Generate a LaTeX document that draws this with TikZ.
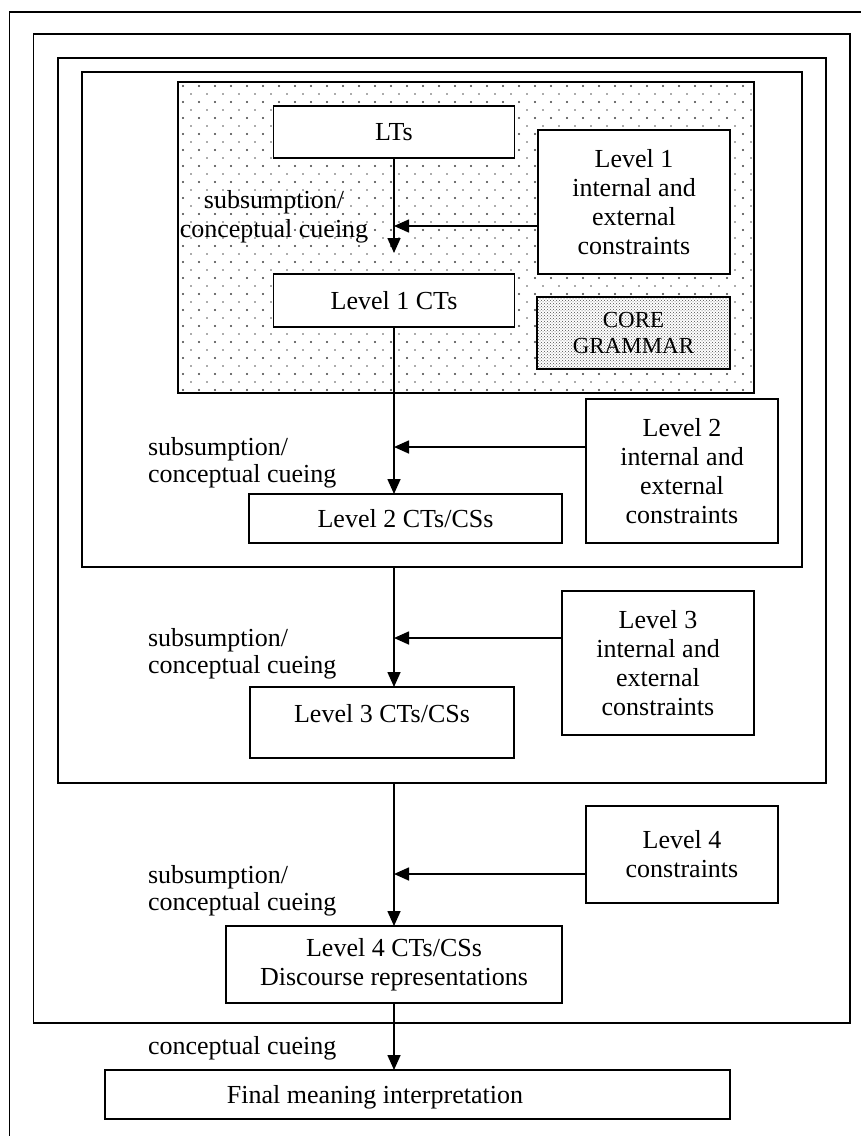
\documentclass[tikz,border=0pt]{standalone}
\usepackage{fontspec}
\setmainfont{Liberation Serif}
\usetikzlibrary{arrows.meta,patterns}
\begin{document}
\begin{tikzpicture}[x=1pt,y=-1pt,
  every node/.style={font=\fontsize{26pt}{29pt}\selectfont, inner sep=0pt, outer sep=0pt},
  frm/.style={draw, line width=1.3pt},
  bx/.style={draw, line width=1.8pt, fill=white, rectangle, align=center},
  arr/.style={line width=1.6pt, -{Triangle[length=15pt,width=13pt]}},
  lbl/.style={anchor=base west},
  lblc/.style={anchor=base}]
\useasboundingbox (0,0) rectangle (861,1136);
\fill[white] (0,0) rectangle (861,1136);
% frames
\draw[frm] (861,12) -- (9.5,12) -- (9.5,1136);
\draw[frm] (33.5,34) rectangle (850,1023);
\draw[frm] (58,58) rectangle (826,783);
\draw[frm] (82,72) rectangle (802,567);
% dotted core region
\fill[white] (178,82) rectangle (754,393);
\fill[black!75] \foreach \i in {0,...,35} {\foreach \j in {0,...,19} {(183+16*\i,86+16*\j) circle (1.05pt)}};
\fill[black!65] \foreach \i in {0,...,35} {\foreach \j in {0,...,18} {(191+16*\i,94+16*\j) circle (0.8pt)}};
\draw[line width=1.8pt] (178,82) rectangle (754,393);
% boxes
\node[bx, minimum width=241pt, minimum height=52pt] (lts) at (394,132) {LTs};
\node[bx, minimum width=241pt, minimum height=53pt] (l1ct) at (394,300.5) {Level 1 CTs};
\node[bx, minimum width=192pt, minimum height=144pt] (l1c) at (634,202) {Level 1\\internal and\\external\\constraints};
\node[draw, line width=1.8pt, rectangle, align=center, preaction={fill=white}, pattern=crosshatch dots, pattern color=black!70,
      minimum width=193pt, minimum height=72pt, font=\fontsize{23pt}{26pt}\selectfont] (core) at (633.5,333) {CORE\\GRAMMAR};
\node[bx, minimum width=313pt, minimum height=49pt] (l2ct) at (405.5,518.5) {Level 2 CTs/CSs};
\node[bx, minimum width=192pt, minimum height=144pt] (l2c) at (682,471) {Level 2\\internal and\\external\\constraints};
\node[bx, minimum width=192pt, minimum height=144pt] (l3c) at (658,663) {Level 3\\internal and\\external\\constraints};
\node[bx, minimum width=264pt, minimum height=71pt] (l3ct) at (382,722.5) {};
\node[lblc] (l3ctt) at (382,722) {Level 3 CTs/CSs};
\node[bx, minimum width=192pt, minimum height=97pt] (l4c) at (682,854.5) {Level 4\\constraints};
\node[bx, minimum width=336pt, minimum height=77pt] (l4ct) at (394,964.5) {Level 4 CTs/CSs\\Discourse representations};
\node[bx, minimum width=625pt, minimum height=49pt] (fin) at (417.5,1094.5) {};
\node[lblc] (fint) at (375,1103) {Final meaning interpretation};
% connectors
\coordinate (t1) at (394,253);
\draw[arr] (lts.south) -- (t1);
\coordinate (j1) at (394,226);
\draw[arr] (l1c.west |- j1) -- (j1);
\draw[arr] (l1ct.south) -- (l1ct.south |- l2ct.north);
\coordinate (j2) at (394,447);
\draw[arr] (l2c.west |- j2) -- (j2);
\coordinate (f4) at (394,567);
\draw[arr] (f4) -- (f4 |- l3ct.north);
\coordinate (j3) at (394,638);
\draw[arr] (l3c.west |- j3) -- (j3);
\coordinate (f3) at (394,783);
\draw[arr] (f3) -- (l4ct.north);
\coordinate (j4) at (394,874);
\draw[arr] (l4c.west |- j4) -- (j4);
\draw[arr] (l4ct.south) -- (l4ct.south |- fin.north);
% labels
\node[lblc] (s1a) at (274,208) {subsumption/};
\node[lblc] (s1b) at (274,237) {conceptual cueing};
\node[lbl] (s2a) at (148,455) {subsumption/};
\node[lbl] (s2b) at (148,482) {conceptual cueing};
\node[lbl] (s3a) at (148,646) {subsumption/};
\node[lbl] (s3b) at (148,673) {conceptual cueing};
\node[lbl] (s4a) at (148,883) {subsumption/};
\node[lbl] (s4b) at (148,910) {conceptual cueing};
\node[lbl] (s5) at (148,1054) {conceptual cueing};
\end{tikzpicture}
\end{document}
